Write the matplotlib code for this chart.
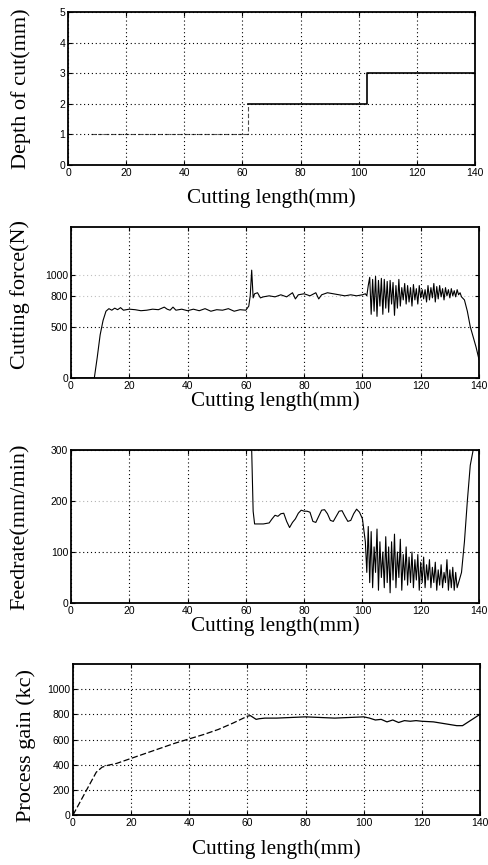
import matplotlib
matplotlib.use("Agg")
import matplotlib.pyplot as plt
import numpy as np

# ---------------- data ----------------
x_ticks = [0, 20, 40, 60, 80, 100, 120, 140]

# Panel 1: depth of cut
depth_x = [8, 62, 62, 103, 103, 140]
depth_y = [1, 1, 2, 2, 3, 3]
depth_yticks = [0, 1, 2, 3, 4, 5]

# Panel 2: cutting force
force_x = [0, 8, 9, 10, 11, 12, 13, 14, 15, 16, 17, 18, 20, 22, 24, 26, 28, 30, 32, 33, 34, 35,
           36, 38, 40, 42, 44, 46, 48, 50, 52, 54, 56, 58, 60, 61, 61.5, 62, 62.5, 63, 64, 65, 66,
           68, 70, 72, 74, 76, 77, 78, 80, 82, 84, 85, 86, 88, 90, 92, 94, 96, 98, 100,
           101, 101.5, 102, 102.5, 103, 103.5, 104, 104.5, 105, 105.5, 106, 106.5, 107, 107.5,
           108, 108.5, 109, 109.5, 110, 110.5, 111, 111.5, 112, 112.5, 113, 113.5, 114, 114.5,
           115, 115.5, 116, 116.5, 117, 117.5, 118, 118.5, 119, 119.5, 120, 120.5, 121, 121.5,
           122, 122.5, 123, 123.5, 124, 124.5, 125, 125.5, 126, 126.5, 127, 127.5, 128, 128.5,
           129, 129.5, 130, 130.5, 131, 131.5, 132, 132.5, 133, 133.5, 134, 135, 136, 137, 138,
           139, 140]
force_y = [0, 0, 200, 420, 560, 650, 675, 660, 680, 665, 685, 660, 670, 665, 655, 660, 670, 665, 690, 670, 660, 690,
           660, 670, 655, 670, 655, 675, 650, 665, 660, 675, 650, 665, 660, 700, 800, 1050, 780, 820, 830, 780, 790,
           800, 790, 810, 790, 830, 770, 810, 820, 800, 830, 770, 810, 830, 820, 810, 800, 810, 800, 810,
           820, 800, 900, 980, 620, 960, 650, 990, 600, 950, 700, 970, 620, 960, 680, 940,
           640, 950, 720, 930, 610, 900, 680, 960, 700, 880, 760, 920, 720, 900,
           740, 880, 700, 910, 760, 870, 720, 900, 780, 860,
           770, 860, 740, 900, 760, 880, 780, 920, 740, 890, 770, 900, 790, 870, 760, 880,
           800, 860, 780, 870, 800, 850, 790, 860, 810, 830, 790, 760, 650, 500, 400,
           300, 180]
force_yticks = [0, 500, 800, 1000]

# Panel 3: feedrate
feed_x = [0, 62, 62.5, 63, 64, 66, 68, 69, 70, 71, 72, 73, 74, 75, 76, 77, 78, 79, 80, 81, 82, 83,
          84, 85, 86, 87, 88, 89, 90, 91, 92, 93, 94, 95, 96, 97, 98, 99, 100,
          101, 101.5, 102, 102.5, 103, 103.5, 104, 104.5, 105, 105.5, 106, 106.5, 107, 107.5,
          108, 108.5, 109, 109.5, 110, 110.5, 111, 111.5, 112, 112.5, 113, 113.5, 114, 114.5,
          115, 115.5, 116, 116.5, 117, 117.5, 118, 118.5, 119, 119.5, 120, 120.5, 121, 121.5,
          122, 122.5, 123, 123.5, 124, 124.5, 125, 125.5, 126, 126.5, 127, 127.5, 128, 128.5,
          129, 129.5, 130, 130.5, 131, 131.5, 132, 132.5, 133, 134, 135, 136, 137, 138, 140]
feed_y = [300, 300, 180, 155, 155, 155, 157, 165, 172, 170, 175, 176, 160, 148, 158, 165, 176, 182, 180, 180, 178, 160,
          158, 170, 182, 183, 175, 162, 160, 170, 180, 181, 170, 160, 162, 175, 184, 178, 165,
          120, 60, 150, 40, 140, 30, 110, 60, 145, 25, 120, 50, 100, 30, 130,
          40, 110, 20, 120, 45, 135, 30, 100, 50, 125, 25, 95, 45, 110,
          35, 90, 40, 100, 30, 85, 45, 95, 25, 80, 40, 90, 30, 75, 45,
          85, 30, 70, 40, 80, 25, 65, 35, 75, 30, 60, 40, 85, 25,
          65, 30, 70, 25, 60, 30, 40, 60, 120, 200, 270, 300, 300]
feed_yticks = [0, 100, 200, 300]

# Panel 4: process gain
gain_x = [0, 8, 10, 12, 15, 20, 25, 30, 35, 40, 45, 50, 55, 60, 61, 62, 63, 64, 66, 70, 75, 80, 85,
          90, 95, 100, 102, 104, 106, 108, 110, 112, 114, 116, 118, 120, 124, 128, 132, 134, 136,
          138, 140]
gain_y = [0, 340, 380, 395, 410, 450, 490, 530, 570, 605, 640, 680, 730, 785, 790, 775, 760, 765, 770,
          770, 775, 780, 775, 770, 775, 780, 770, 755, 760, 740, 755, 735, 750, 745, 750, 745, 740,
          725, 710, 710, 740, 770, 800]
gain_yticks = [0, 200, 400, 600, 800, 1000]

# ---------------- figure ----------------
W, H = 488, 865
fig = plt.figure(figsize=(W / 100, H / 100), dpi=100)
fig.patch.set_facecolor("white")

serif = ["Liberation Serif", "DejaVu Serif"]
tickfont = "Liberation Sans"


def box(l, t, r, b):
    return [l / W, (H - b) / H, (r - l) / W, (b - t) / H]


def style(ax, ylim, yticks, ylabel, xlab_y, ylab_x, ylab_y=0.5):
    ax.set_xlim(0, 140)
    ax.set_ylim(*ylim)
    ax.set_xticks(x_ticks)
    ax.set_yticks(yticks)
    ax.tick_params(direction="in", length=3, width=0.8, labelsize=7.5, pad=2,
                   top=True, right=True)
    for lab in ax.get_xticklabels() + ax.get_yticklabels():
        lab.set_family(tickfont)
    for s in ax.spines.values():
        s.set_linewidth(1.3)
    ax.grid(True, color="black", linestyle=(0, (1, 2.5)), linewidth=0.8)
    ax.set_xlabel("Cutting length(mm)", fontsize=15.2, family=serif, va="top")
    ax.xaxis.set_label_coords(0.5, xlab_y)
    ax.set_ylabel(ylabel, fontsize=16, family=serif)
    ax.yaxis.set_label_coords(ylab_x, ylab_y)


# Panel 1
ax1 = fig.add_axes(box(68, 12, 475, 165))
dx = np.array(depth_x)
dy = np.array(depth_y)
ax1.plot(dx[:3], dy[:3], color="black", linewidth=0.8, linestyle=(0, (4, 2)), alpha=0.7)
ax1.plot(dx[2:], dy[2:], color="black", linewidth=1.2)
style(ax1, (0, 5), depth_yticks, "Depth of cut(mm)", -0.15, -0.09)

# Panel 2
ax2 = fig.add_axes(box(71, 227, 479, 378))
ax2.plot(force_x, force_y, color="black", linewidth=0.8)
style(ax2, (0, 1470), force_yticks, "Cutting force(N)", -0.085, -0.10, 0.55)
for gl in ax2.get_ygridlines()[2:]:
    gl.set_alpha(0.25)

# Panel 3
ax3 = fig.add_axes(box(71, 450, 479, 603))
ax3.plot(feed_x, feed_y, color="black", linewidth=0.8)
style(ax3, (0, 300), feed_yticks, "Feedrate(mm/min)", -0.085, -0.10)
ax3.get_ygridlines()[2].set_alpha(0.3)

# Panel 4
ax4 = fig.add_axes(box(73, 664, 480, 815))
gx = np.array(gain_x)
gy = np.array(gain_y)
m = gx <= 60
ax4.plot(gx[m], gy[m], color="black", linewidth=0.9, linestyle=(0, (5, 2)))
ax4.plot(gx[gx >= 60], gy[gx >= 60], color="black", linewidth=0.9)
style(ax4, (0, 1200), gain_yticks, "Process gain (kc)", -0.16, -0.09, 0.46)

fig.savefig("out.png", dpi=100, facecolor="white")
